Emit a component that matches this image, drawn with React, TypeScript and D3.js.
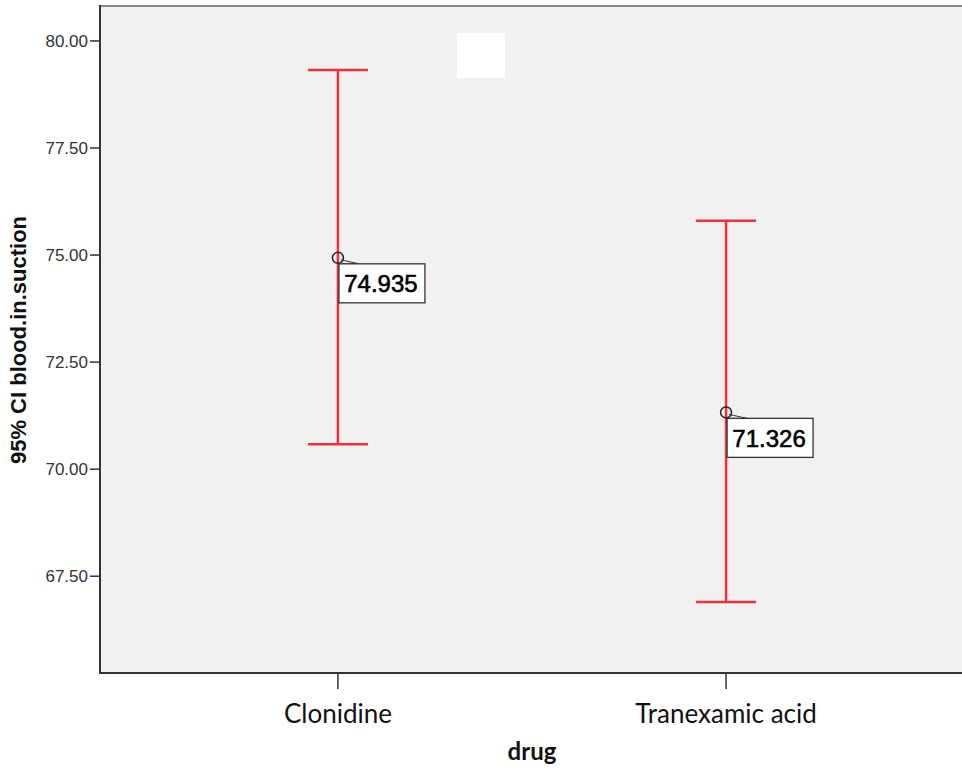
import React from "react";
import * as d3 from "d3";

const categories = ["Clonidine", "Tranexamic acid"];
const means = [74.935, 71.326];
const lowers = [70.58, 66.9];
const uppers = [79.32, 75.8];
const meanLabels = ["74.935", "71.326"];
const yTicks = [67.5, 70.0, 72.5, 75.0, 77.5, 80.0];

const W = 962;
const H = 771;
const left = 100;
const right = 964;
const top = 6;
const bottom = 673;

export default function App() {
  const y = d3.scaleLinear().domain([65.24, 80.816]).range([bottom, top]);
  const x = d3.scalePoint<string>().domain(categories).range([left, right]).padding(0.613);
  const fmt = d3.format(".2f");
  const capHalf = 30;
  const red = "#f0303c";

  return (
    <svg width={W} height={H} style={{ position: "absolute", left: 0, top: 0 }}>
      <rect x={0} y={0} width={W} height={H} fill="#ffffff" />
      <rect x={left} y={top} width={right - left} height={bottom - top} fill="#f1f1f1" />
      <rect x={457} y={33} width={48} height={45} fill="#ffffff" />
      {/* frame */}
      <line x1={left} x2={right} y1={top} y2={top} stroke="#8a8a8a" strokeWidth={2} />
      <line x1={left} x2={left} y1={top - 1} y2={bottom + 1} stroke="#333" strokeWidth={2} />
      <line x1={left - 1} x2={right} y1={bottom} y2={bottom} stroke="#333" strokeWidth={2} />
      {/* y ticks */}
      {yTicks.map((t) => (
        <g key={t}>
          <line x1={left - 10} x2={left} y1={y(t)} y2={y(t)} stroke="#333" strokeWidth={1.5} />
          <text
            x={left - 12}
            y={y(t)}
            dy="0.36em"
            textAnchor="end"
            fontFamily="Liberation Sans, Arial, sans-serif"
            fontSize={17}
            fill="#333"
          >
            {fmt(t)}
          </text>
        </g>
      ))}
      {/* x ticks */}
      {categories.map((c) => (
        <g key={c}>
          <line x1={x(c)!} x2={x(c)!} y1={bottom} y2={bottom + 16} stroke="#333" strokeWidth={1.5} />
          <text
            x={x(c)!}
            y={723}
            textAnchor="middle"
            fontFamily="Lato, Open Sans, sans-serif"
            fontSize={26}
            fill="#111"
          >
            {c}
          </text>
        </g>
      ))}
      {/* error bars */}
      {categories.map((c, i) => {
        const cx = x(c)!;
        const cy = y(means[i]);
        const bx = cx + 1;
        const by = cy + 6;
        return (
          <g key={c + "bar"}>
            <line x1={cx} x2={cx} y1={y(uppers[i])} y2={y(lowers[i])} stroke={red} strokeWidth={2.5} />
            <line x1={cx - capHalf} x2={cx + capHalf} y1={y(uppers[i])} y2={y(uppers[i])} stroke={red} strokeWidth={2.5} />
            <line x1={cx - capHalf} x2={cx + capHalf} y1={y(lowers[i])} y2={y(lowers[i])} stroke={red} strokeWidth={2.5} />
            <path
              d={`M${cx + 3},${cy + 2} L${cx + 21},${by} L${cx + 4},${by}`}
              fill="#f1f1f1"
              stroke="#333"
              strokeWidth={1}
            />
            <circle cx={cx} cy={cy} r={5.5} fill="none" stroke="#222" strokeWidth={1.5} />
            <rect x={bx} y={by} width={86} height={39} fill="#ffffff" stroke="#333" strokeWidth={1.3} />
            <text
              x={bx + 42}
              y={by + 20}
              dy="0.36em"
              textAnchor="middle"
              fontFamily="Liberation Sans, Arial, sans-serif"
              fontSize={24}
              fill="#000"
              stroke="#000"
              strokeWidth={0.6}
            >
              {meanLabels[i]}
            </text>
          </g>
        );
      })}
      {/* axis titles */}
      <text
        transform={`translate(26,340) rotate(-90)`}
        textAnchor="middle"
        fontFamily="Liberation Sans, Arial, sans-serif"
        fontWeight="bold"
        fontSize={22}
        fill="#111"
      >
        95% CI blood.in.suction
      </text>
      <text
        x={532}
        y={760}
        textAnchor="middle"
        fontFamily="Lato, Open Sans, sans-serif"
        fontWeight="bold"
        fontSize={24}
        fill="#111"
      >
        drug
      </text>
    </svg>
  );
}
